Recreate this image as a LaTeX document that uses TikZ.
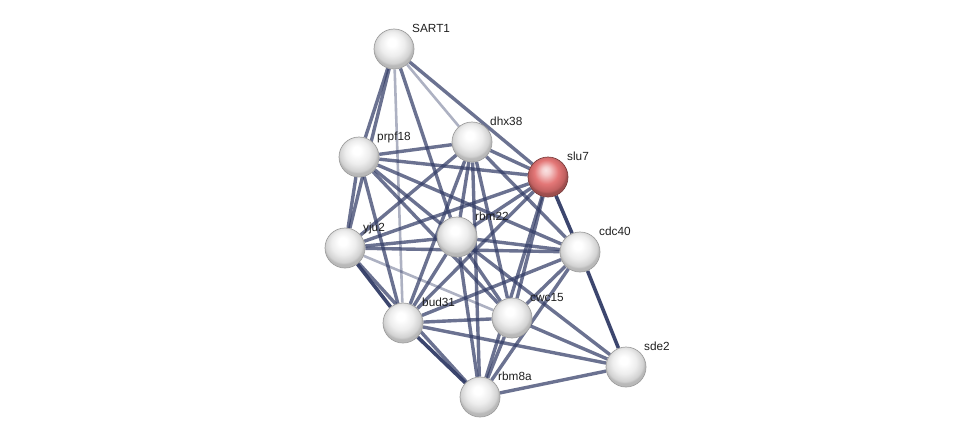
\documentclass[tikz,border=0pt]{standalone}
\usepackage{fontspec}
\setmainfont{Liberation Sans}
\usetikzlibrary{backgrounds}
\definecolor{strblue}{RGB}{50,60,102}
\definecolor{strred}{RGB}{226,112,112}
\pgfdeclareradialshading{greyball}{\pgfpoint{-3bp}{9bp}}{color(0bp)=(white); color(5bp)=(white); color(15bp)=(gray!14); color(23bp)=(gray!36); color(25bp)=(gray!55); color(50bp)=(gray!55)}
\pgfdeclareradialshading{redball}{\pgfpoint{-3bp}{9bp}}{color(0bp)=(strred!20!white); color(5bp)=(strred!35!white); color(15bp)=(strred!95!white); color(23bp)=(strred!85!black); color(25bp)=(strred!70!black); color(50bp)=(strred!70!black)}

\begin{document}
\begin{tikzpicture}[x=1pt, y=-1pt,
  prot/.style={circle, minimum size=40pt, inner sep=0pt, shading=greyball, draw=gray!75, line width=0.7pt},
  query/.style={prot, shading=redball, draw=strred!55!black},
  lbl/.style={font=\fontsize{11.8}{14}\selectfont, text=black!88, anchor=base west, inner sep=0pt},
  link/.style={strblue, line width=3.4pt, opacity=0.72},
  strong/.style={strblue, line width=3.6pt, opacity=0.95},
  weak/.style={strblue, line width=2.6pt, opacity=0.4}]
\useasboundingbox (0,0) rectangle (975,442);

% proteins
\node[prot] (SART1) at (394,49) {};
\node[prot] (prpf18) at (359,157) {};
\node[prot] (dhx38) at (472,142) {};
\node[query] (slu7) at (548,177) {};
\node[prot] (yju2) at (345,248) {};
\node[prot] (rbm22) at (457,237) {};
\node[prot] (cdc40) at (580,252) {};
\node[prot] (bud31) at (403,323) {};
\node[prot] (cwc15) at (512,318) {};
\node[prot] (sde2) at (626,367) {};
\node[prot] (rbm8a) at (480,397) {};

% names
\node[lbl] (tSART1) at ([shift={(18,-17)}]SART1.center) {SART1};
\node[lbl] (tprpf18) at ([shift={(18,-17)}]prpf18.center) {prpf18};
\node[lbl] (tdhx38) at ([shift={(18,-17)}]dhx38.center) {dhx38};
\node[lbl] (tslu7) at ([shift={(19,-17)}]slu7.center) {slu7};
\node[lbl] (tyju2) at ([shift={(18,-17)}]yju2.center) {yju2};
\node[lbl] (trbm22) at ([shift={(18,-17)}]rbm22.center) {rbm22};
\node[lbl] (tcdc40) at ([shift={(19,-17)}]cdc40.center) {cdc40};
\node[lbl] (tbud31) at ([shift={(19,-17)}]bud31.center) {bud31};
\node[lbl] (tcwc15) at ([shift={(18,-17)}]cwc15.center) {cwc15};
\node[lbl] (tsde2) at ([shift={(18,-17)}]sde2.center) {sde2};
\node[lbl] (trbm8a) at ([shift={(18,-17)}]rbm8a.center) {rbm8a};

% interactions
\begin{pgfonlayer}{background}
\draw[weak] (SART1) -- (bud31);
\draw[weak] (SART1) -- (dhx38);
\draw[weak] (yju2) -- (cwc15);
\draw[link] (SART1) -- (prpf18);
\draw[link] (SART1) -- (yju2);
\draw[link] (SART1) -- (rbm22);
\draw[link] (SART1) -- (slu7);
\draw[link] (prpf18) -- (dhx38);
\draw[link] (prpf18) -- (slu7);
\draw[link] (prpf18) -- (yju2);
\draw[link] (prpf18) -- (bud31);
\draw[link] (prpf18) -- (rbm22);
\draw[link] (prpf18) -- (cdc40);
\draw[link] (prpf18) -- (cwc15);
\draw[link] (dhx38) -- (slu7);
\draw[link] (dhx38) -- (yju2);
\draw[link] (dhx38) -- (rbm22);
\draw[link] (dhx38) -- (bud31);
\draw[link] (dhx38) -- (cwc15);
\draw[link] (dhx38) -- (rbm8a);
\draw[link] (dhx38) -- (cdc40);
\draw[link] (yju2) -- (rbm22);
\draw[link] (yju2) -- (slu7);
\draw[link] (yju2) -- (cdc40);
\draw[link] (yju2) -- (rbm8a);
\draw[link] (rbm22) -- (slu7);
\draw[link] (rbm22) -- (cdc40);
\draw[link] (rbm22) -- (bud31);
\draw[link] (rbm22) -- (cwc15);
\draw[link] (rbm22) -- (rbm8a);
\draw[link] (rbm22) -- (sde2);
\draw[link] (slu7) -- (bud31);
\draw[link] (slu7) -- (cwc15);
\draw[link] (slu7) -- (rbm8a);
\draw[link] (cdc40) -- (bud31);
\draw[link] (cdc40) -- (cwc15);
\draw[link] (cdc40) -- (rbm8a);
\draw[link] (bud31) -- (cwc15);
\draw[link] (bud31) -- (sde2);
\draw[link] (cwc15) -- (sde2);
\draw[link] (cwc15) -- (rbm8a);
\draw[link] (rbm8a) -- (sde2);
\draw[strong] (yju2) -- (bud31);
\draw[strong] (bud31) -- (rbm8a);
\draw[strong] (slu7) -- (cdc40);
\draw[strong] (cdc40) -- (sde2);
\end{pgfonlayer}
\end{tikzpicture}
\end{document}
